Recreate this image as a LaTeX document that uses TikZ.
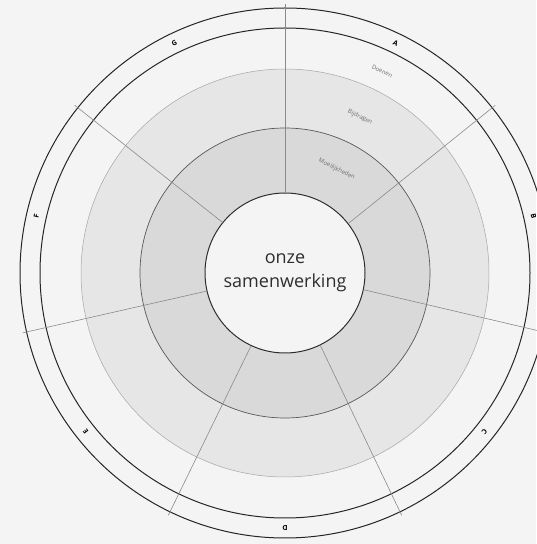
\documentclass[tikz,border=0pt]{standalone}
\usepackage{fontspec}
\setmainfont{Open Sans}
\definecolor{bgc}{HTML}{F4F4F4}
\definecolor{ringlight}{HTML}{E6E6E6}
\definecolor{ringdark}{HTML}{D9D9D9}
\definecolor{divc}{HTML}{8A8A8A}
\definecolor{txtc}{HTML}{2E2E2E}
\definecolor{lblc}{HTML}{6E6E6E}
\tikzset{
  divider/.style={draw=divc, line width=0.6pt},
  blackring/.style={draw=black!85, line width=1pt},
  letter/.style={font=\fontsize{7}{8}\selectfont\bfseries, text=black, inner sep=0pt},
  seglabel/.style={font=\fontsize{6}{7}\selectfont, text=lblc, inner sep=0pt},
  centre/.style={circle, minimum size=160pt, inner sep=0pt, draw=txtc, line width=1pt,
    fill=bgc, align=center, text=txtc, font=\fontsize{18}{24}\selectfont}
}
\begin{document}
\begin{tikzpicture}[x=1pt,y=1pt]
\fill[bgc] (0,0) rectangle (536,544);
\useasboundingbox (0,0) rectangle (536,544);
\coordinate (O) at (285,271);
% rings
\fill[ringlight] (O) circle (204);
\fill[ringdark] (O) circle (145);
\draw[draw=black!35, line width=0.5pt] (O) circle (204);
\draw[draw=black!65, line width=0.7pt] (O) circle (145);
% outer black rings
\draw[blackring] (O) circle (245);
\draw[blackring] (O) circle (265);
% centre node
\node[centre] (ctr) at (O) {onze\\samenwerking};
% dividers
\foreach \a [count=\i] in {90,38.571,-12.857,-64.286,-115.714,-167.143,141.429} {
  \coordinate (e\i) at ([shift={(\a:269)}]O);
  \draw[divider] (ctr.\a) -- (e\i);
}
% letters
\foreach \a/\t in {64.286/A,12.857/B,-38.571/C,-90/D,-141.429/E,167.143/F,115.714/G} {
  \node[letter, rotate=\a-90] (L\t) at ([shift={(\a:255)}]O) {\t};
}
% segment labels
\node[seglabel, rotate=-26] (doen) at ([shift={(64.3:224)}]O) {Doenen};
\node[seglabel, rotate=-26] (bijd) at ([shift={(64.3:173)}]O) {Bijdragen};
\node[seglabel, rotate=-26] (moei) at ([shift={(63.5:116)}]O) {Moeilijkheden};
\end{tikzpicture}
\end{document}
